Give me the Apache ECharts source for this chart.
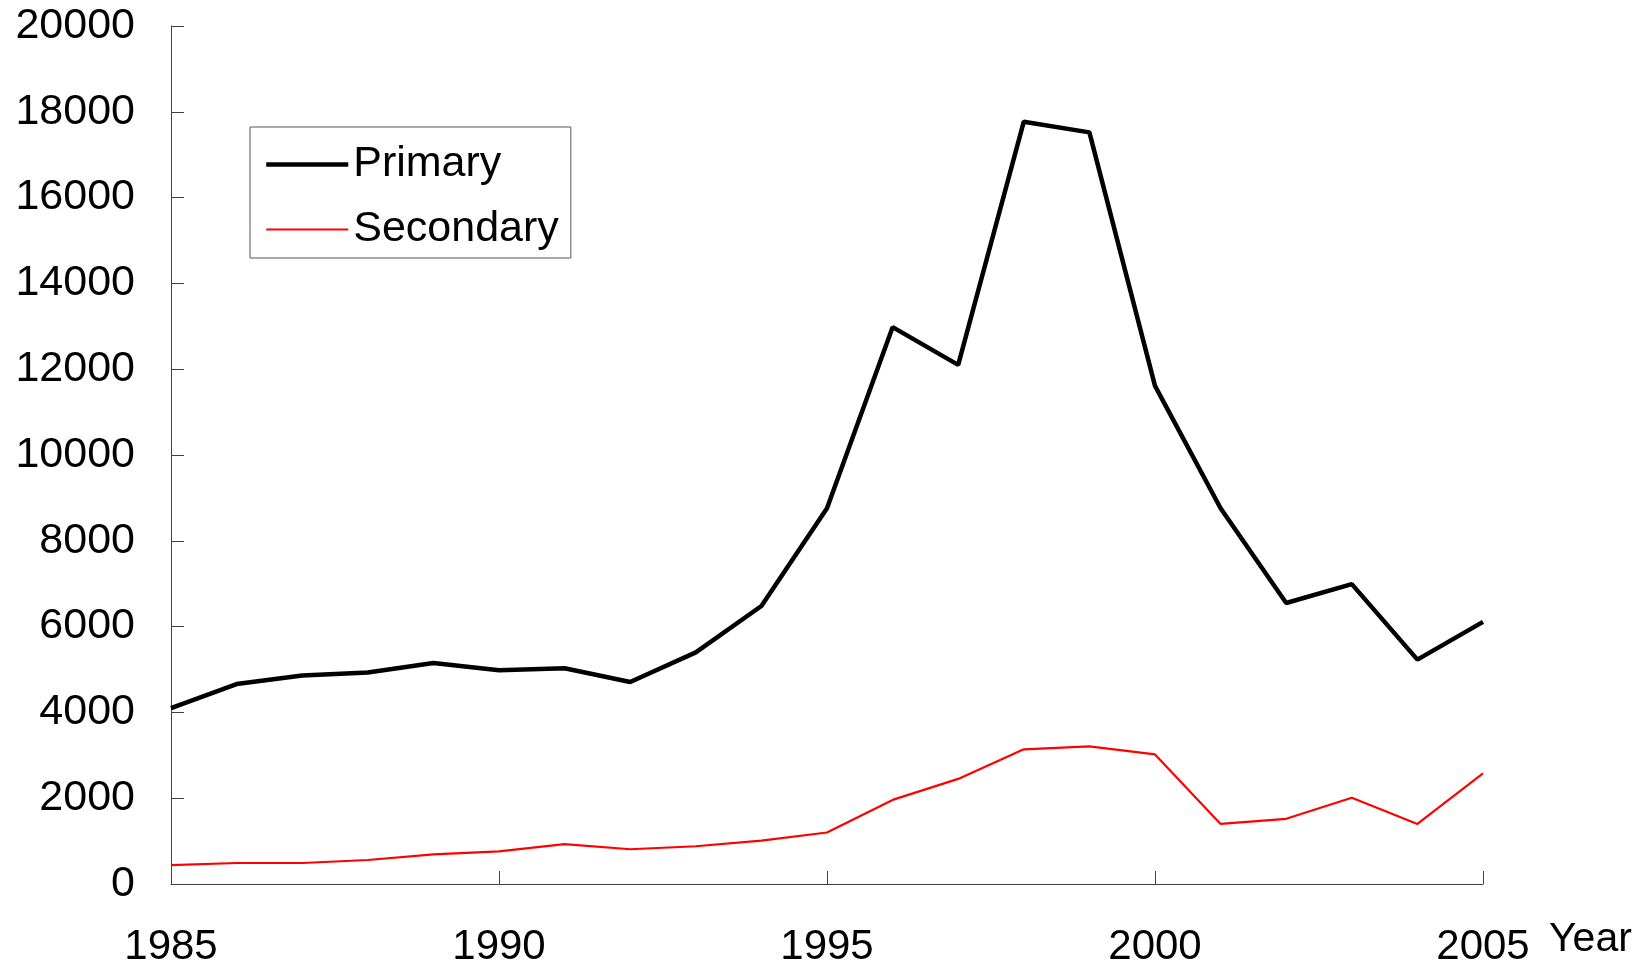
<!DOCTYPE html>
<html>
<head>
<meta charset="utf-8">
<script src="https://cdn.jsdelivr.net/npm/echarts@6/dist/echarts.min.js"></script>
<style>
  html, body { margin: 0; padding: 0; background: #fff; }
  #chart { width: 1650px; height: 967px; }
</style>
</head>
<body>
<div id="chart"></div>
<script>
const years = [1985, 1986, 1987, 1988, 1989, 1990, 1991, 1992, 1993, 1994, 1995,
  1996, 1997, 1998, 1999, 2000, 2001, 2002, 2003, 2004, 2005]
const primary = [4100, 4660, 4860, 4930, 5150, 4980, 5030, 4710, 5400, 6480, 8760,
  12980, 12100, 17770, 17520, 11610, 8760, 6550, 6990, 5230, 6110]
const secondary = [440, 490, 490, 560, 690, 760, 930, 810, 880, 1010, 1200,
  1960, 2450, 3140, 3210, 3020, 1400, 1520, 2010, 1400, 2580]

const font = 'Liberation Sans, Arial, sans-serif'
const axisColor = '#404040'

const chart = echarts.init(document.getElementById('chart'))
chart.setOption({
  animation: false,
  textStyle: { fontFamily: font },
  grid: { left: 171, right: 167, top: 26, bottom: 83, outerBoundsMode: 'none', containLabel: false },
  legend: {
    orient: 'vertical',
    left: 250,
    top: 127,
    padding: [16, 12, 7, 14],
    itemGap: 22,
    itemWidth: 82,
    itemHeight: 14,
    borderColor: '#555',
    borderWidth: 1,
    itemStyle: { opacity: 0 },
    textStyle: { fontSize: 43, color: '#000', fontFamily: font },
    data: [
      { name: 'Primary', lineStyle: { width: 4.5 } },
      { name: 'Secondary', lineStyle: { width: 2 } }
    ]
  },
  xAxis: {
    type: 'value',
    min: 1985,
    max: 2005,
    interval: 5,
    splitLine: { show: false },
    axisLine: { lineStyle: { color: axisColor, width: 1 } },
    axisTick: { inside: true, length: 13, lineStyle: { color: axisColor } },
    axisLabel: {
      margin: 42, fontSize: 42, color: '#000', fontFamily: font,
      formatter: v => String(v)
    }
  },
  yAxis: {
    type: 'value',
    min: 0,
    max: 20000,
    interval: 2000,
    splitLine: { show: false },
    axisLine: { show: true, lineStyle: { color: axisColor, width: 1 } },
    axisTick: { show: true, inside: true, length: 13, lineStyle: { color: axisColor } },
    axisLabel: {
      margin: 36, fontSize: 43, color: '#000', fontFamily: font,
      formatter: v => String(v)
    }
  },
  graphic: [{
    type: 'text',
    left: 1549,
    top: 919,
    style: { text: 'Year', fontSize: 41, fill: '#000', fontFamily: font }
  }],
  series: [
    {
      name: 'Primary',
      type: 'line',
      symbol: 'none',
      data: years.map((y, i) => [y, primary[i]]),
      lineStyle: { color: '#000', width: 4.5 },
      itemStyle: { color: '#000' }
    },
    {
      name: 'Secondary',
      type: 'line',
      symbol: 'none',
      data: years.map((y, i) => [y, secondary[i]]),
      lineStyle: { color: '#ff0000', width: 2.2 },
      itemStyle: { color: '#ff0000' }
    }
  ]
})
</script>
</body>
</html>
